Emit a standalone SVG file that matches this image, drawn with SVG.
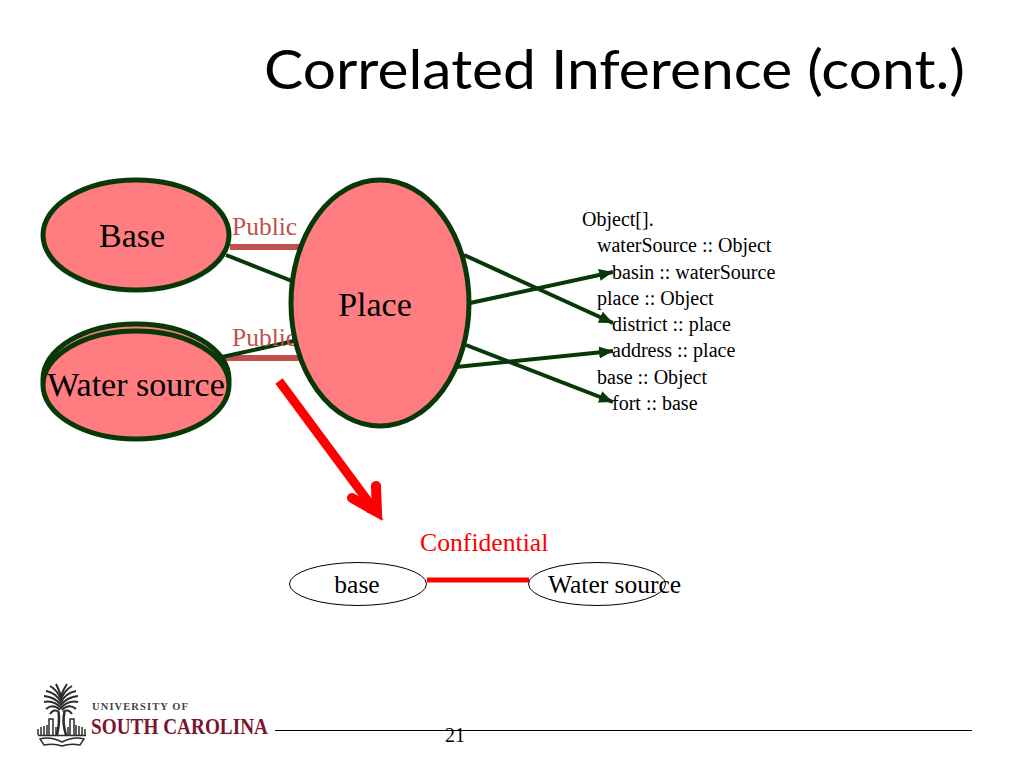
<svg xmlns="http://www.w3.org/2000/svg" width="1024" height="768" viewBox="0 0 1024 768">
<style>
text{font-family:"Liberation Serif","Times New Roman",serif;fill:#000}
.big{font-size:34px}
.code{font-size:20px}
.pub{font-size:25.500px;fill:#c0504d}
.node{fill:#ff7c80;stroke:#073807;stroke-width:5}
.link{stroke:#073807;stroke-width:4;fill:none}
.arr{stroke:#073807;stroke-width:4;fill:none;marker-end:url(#ah)}
.pubbar{stroke:#c0504d;stroke-width:6}
.thin{fill:#fff;stroke:#000;stroke-width:1}
.palm{stroke:#2b2b2b;fill:none}
</style>
<defs>
<marker id="ah" markerUnits="userSpaceOnUse" markerWidth="16" markerHeight="14" refX="14" refY="6" orient="auto"><path d="M0 0L14 6L0 12z" fill="#073807"/></marker>
</defs>
<rect width="1024" height="768" fill="#fff"/>
<text id="title" x="264" y="89" style="font-family:Lato,'Open Sans',sans-serif;font-size:55px" textLength="701" lengthAdjust="spacingAndGlyphs">Correlated Inference (cont.)</text>

<g id="connectors">
<line class="pubbar" x1="230" y1="247" x2="300" y2="247"/>
<line class="pubbar" x1="225" y1="358" x2="300" y2="358"/>
<line class="link" x1="226" y1="255" x2="292" y2="281"/>
<line class="link" x1="222" y1="357" x2="294" y2="341"/>
<line class="arr" x1="464" y1="255" x2="613" y2="323"/>
<line class="arr" x1="470" y1="303" x2="613" y2="272"/>
<line class="arr" x1="466" y1="345" x2="613" y2="402"/>
<line class="arr" x1="456" y1="367" x2="613" y2="351"/>
<line x1="427" y1="580" x2="529" y2="580" stroke="#f00" stroke-width="5"/>
<line x1="279" y1="381" x2="376" y2="512" stroke="#f00" stroke-width="9"/>
<path d="M352 498L377 512L376 486" fill="none" stroke="#f00" stroke-width="10" stroke-linecap="round"/>
<path d="M371 506L384 520L366 512z" fill="#f00"/>
</g>

<g id="label-public-1"><text class="pub" x="232" y="235">Public</text></g>
<g id="label-public-2"><text class="pub" x="232" y="346">Public</text></g>

<g id="node-base">
<ellipse class="node" cx="136" cy="235" rx="93" ry="55"/>
<text class="big" x="132" y="247" text-anchor="middle">Base</text>
</g>
<g id="node-water-source">
<ellipse class="node" cx="136" cy="379" rx="93" ry="55"/>
<ellipse class="node" cx="136" cy="385" rx="93" ry="54"/>
<text class="big" x="136" y="396" text-anchor="middle">Water source</text>
</g>
<g id="node-place">
<ellipse class="node" cx="380" cy="303" rx="89" ry="123"/>
<text class="big" x="375" y="316" text-anchor="middle">Place</text>
</g>

<g id="code">
<text class="code" x="582" y="226">Object[].</text>
<text class="code" x="597" y="252">waterSource :: Object</text>
<text class="code" x="612" y="279">basin :: waterSource</text>
<text class="code" x="597" y="305">place :: Object</text>
<text class="code" x="612" y="331">district :: place</text>
<text class="code" x="612" y="357">address :: place</text>
<text class="code" x="597" y="384">base :: Object</text>
<text class="code" x="612" y="410">fort :: base</text>
</g>

<g id="label-confidential"><text x="420" y="551" style="font-size:25.700px;fill:#f00">Confidential</text></g>
<g id="node-base-2">
<ellipse class="thin" cx="358" cy="584" rx="68.500" ry="21.500"/>
<text x="357" y="593" style="font-size:25.500px" text-anchor="middle">base</text>
</g>
<g id="node-water-source-2">
<ellipse class="thin" cx="597" cy="584" rx="68.500" ry="21.500"/>
<text x="548" y="593" style="font-size:25.500px">Water source</text>
</g>

<g id="footer">
<line x1="275" y1="730.500" x2="972" y2="730.500" stroke="#000" stroke-width="1"/>
<text x="445" y="742" style="font-size:20px">21</text>
</g>

<g id="logo">
<g class="palm" stroke-width="2">
<path d="M56 684Q59 690 61 696Q63 690 67 684"/>
<path d="M50 686Q57 690 61 699Q65 690 72 686"/>
<path d="M46 691Q56 693 61 702Q66 693 76 691"/>
<path d="M44 696Q55 697 61 705Q67 697 78 696"/>
<path d="M44 702Q54 700 61 708Q68 700 78 702"/>
<path d="M46 709Q53 703 60 710M76 709Q69 703 62 710"/>
<path d="M50 714Q54 708 59 712M72 714Q68 708 63 712"/>
<path d="M58.500 712Q60 722 57 735M64.500 712Q62 722 66 735" stroke-width="2.500"/>
<path d="M49 735V719H53V735M70 735V719H74V735" stroke-width="1.500"/>
<path d="M38 735V729M41 735V727M44 735V726M47 735V725M56 735V727M68 735V727M76 735V725M79 735V726M82 735V727M85 735V729" stroke-width="1.500"/>
<path d="M38 735.500H86" stroke-width="1.500"/>
<path d="M40 739Q50 736 62 742Q74 736 84 739L80 745Q70 743 62 746Q54 743 44 745z" stroke-width="1.500"/>
</g>
<text x="92" y="710" style="font-size:10.500px;font-weight:bold;fill:#444" textLength="96" lengthAdjust="spacing">UNIVERSITY OF</text>
<text x="91" y="734" style="font-size:23.500px;fill:#7a1530;font-weight:bold" textLength="177" lengthAdjust="spacingAndGlyphs">SOUTH CAROLINA</text>
</g>
</svg>
